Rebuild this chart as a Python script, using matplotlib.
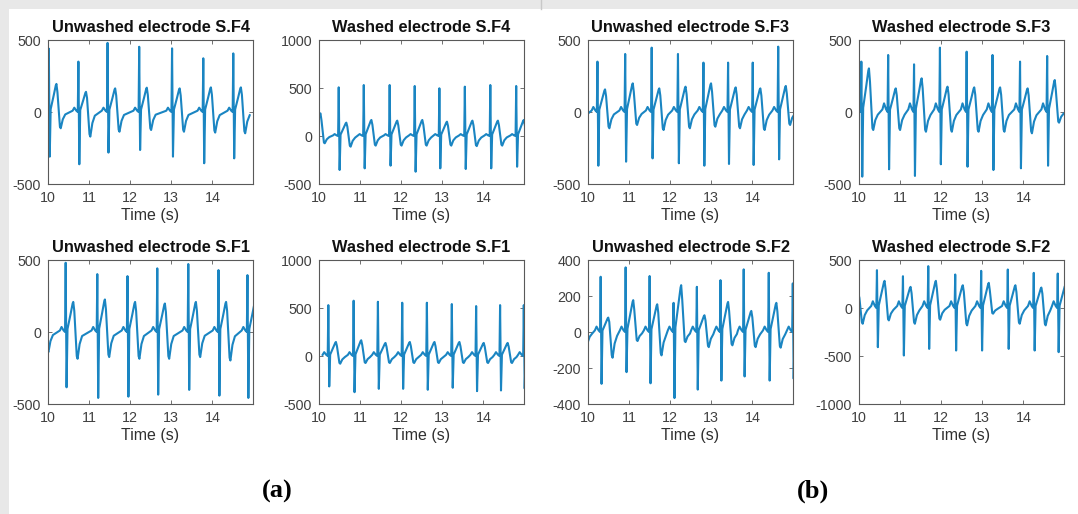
import matplotlib
matplotlib.use("Agg")
import matplotlib.pyplot as plt
from matplotlib.patches import Rectangle
from matplotlib.lines import Line2D
import numpy as np

plt.rcParams['font.family'] = ['Liberation Sans', 'DejaVu Sans']
plt.rcParams['axes.unicode_minus'] = False

# ---------------- data ----------------
# per beat: R-peak time (s), R peak, S trough, T peak, post-T dip (uV)
uF4_t = [10.02, 10.74, 11.45, 12.22, 13.02, 13.78, 14.51]
uF4_R = [440, 350, 480, 453, 442, 373, 407]
uF4_S = [-310, -363, -282, -264, -310, -356, -322]
uF4_T = [195, 140, 164, 169, 164, 171, 171]
uF4_D = [-113, -171, -137, -125, -137, -143, -148]
uF4_P = 30

wF4_t = [9.85, 10.48, 11.09, 11.72, 12.33, 12.93, 13.55, 14.17, 14.80]
wF4_R = [500, 507, 531, 531, 521, 497, 514, 531, 521]
wF4_S = [-340, -354, -337, -309, -372, -337, -344, -337, -320]
wF4_T = [236, 139, 167, 160, 167, 149, 160, 160, 167]
wF4_D = [-76, -111, -100, -100, -100, -100, -105, -100, -100]
wF4_P = 20

uF3_t = [9.58, 10.23, 10.905, 11.55, 12.19, 12.81, 13.41, 14.01, 14.63]
uF3_R = [380, 350, 403, 447, 403, 343, 343, 343, 454]
uF3_S = [-350, -373, -345, -322, -356, -373, -361, -368, -329]
uF3_T = [170, 157, 199, 164, 176, 199, 171, 164, 181]
uF3_D = [-100, -113, -90, -125, -113, -102, -113, -125, -90]
uF3_P = 35

wF3_t = [10.057, 10.71, 11.34, 11.97, 12.62, 13.25, 13.92, 14.58]
wF3_R = [350, 396, 331, 447, 419, 396, 350, 389]
wF3_S = [-449, -398, -444, -363, -380, -403, -391, -373]
wF3_T = [303, 164, 234, 176, 171, 171, 164, 222]
wF3_D = [-125, -125, -137, -137, -137, -137, -148, -74]
wF3_P = 60

uF1_t = [9.72, 10.43, 11.20, 11.935, 12.66, 13.415, 14.15, 14.855]
uF1_R = [420, 481, 402, 388, 442, 472, 430, 395]
uF1_S = [-420, -384, -458, -449, -435, -402, -442, -458]
uF1_T = [210, 209, 226, 209, 198, 209, 209, 209]
uF1_D = [-140, -186, -174, -186, -186, -174, -198, -180]
uF1_P = 35

wF1_t = [10.227, 10.843, 11.434, 12.026, 12.626, 13.233, 13.825, 14.408, 14.985]
wF1_R = [530, 576, 565, 555, 555, 541, 520, 530, 530]
wF1_S = [-317, -377, -342, -342, -352, -331, -366, -359, -340]
wF1_T = [146, 164, 136, 146, 146, 146, 136, 136, 140]
wF1_D = [-80, -73, -73, -73, -73, -73, -73, -73, -73]
wF1_P = 40

uF2_t = [9.70, 10.308, 10.916, 11.50, 12.083, 12.65, 13.225, 13.79, 14.40, 14.985]
uF2_R = [300, 307, 359, 311, 162, 251, 288, 348, 329, 270]
uF2_S = [-280, -288, -223, -285, -367, -320, -270, -247, -270, -260]
uF2_T = [100, 80, 177, 154, 260, 93, 167, 117, 162, 150]
uF2_D = [-60, -143, -50, -130, -56, -84, -74, -84, -87, -80]
uF2_P = 30

wF2_t = [9.80, 10.437, 11.07, 11.686, 12.342, 12.974, 13.622, 14.254, 14.838]
wF2_R = [380, 394, 331, 436, 349, 387, 401, 366, 359]
wF2_S = [-420, -408, -495, -426, -443, -443, -426, -443, -460]
wF2_T = [150, 283, 220, 283, 237, 262, 237, 213, 237]
wF2_D = [-164, -129, -164, -122, -181, -59, -164, -181, -150]
wF2_P = 70

titles = ['Unwashed electrode S.F4', 'Washed electrode S.F4',
          'Unwashed electrode S.F3', 'Washed electrode S.F3',
          'Unwashed electrode S.F1', 'Washed electrode S.F1',
          'Unwashed electrode S.F2', 'Washed electrode S.F2']
y_limits = [(-500, 500), (-500, 1000), (-500, 500), (-500, 500),
            (-500, 500), (-500, 1000), (-400, 400), (-1000, 500)]
y_ticks = [[-500, 0, 500], [-500, 0, 500, 1000], [-500, 0, 500], [-500, 0, 500],
           [-500, 0, 500], [-500, 0, 500, 1000], [-400, -200, 0, 200, 400],
           [-1000, -500, 0, 500]]
x_ticks = [10, 11, 12, 13, 14]
x_range = (10, 14.99)

beats = [(uF4_t, uF4_R, uF4_S, uF4_T, uF4_D, uF4_P),
         (wF4_t, wF4_R, wF4_S, wF4_T, wF4_D, wF4_P),
         (uF3_t, uF3_R, uF3_S, uF3_T, uF3_D, uF3_P),
         (wF3_t, wF3_R, wF3_S, wF3_T, wF3_D, wF3_P),
         (uF1_t, uF1_R, uF1_S, uF1_T, uF1_D, uF1_P),
         (wF1_t, wF1_R, wF1_S, wF1_T, wF1_D, wF1_P),
         (uF2_t, uF2_R, uF2_S, uF2_T, uF2_D, uF2_P),
         (wF2_t, wF2_R, wF2_S, wF2_T, wF2_D, wF2_P)]


def ecg_trace(rt, R, S, T, D, p):
    """Build the polyline of each beat from its read feature values."""
    ts, vs = [], []
    for r, a, s, tt, d in zip(rt, R, S, T, D):
        pts = [(r - 0.14, 0.3 * p), (r - 0.10, p), (r - 0.05, 0.3 * p),
               (r - 0.015, 0.0), (r, a), (r + 0.022, s), (r + 0.045, 0.1 * tt),
               (r + 0.12, 0.6 * tt), (r + 0.17, 0.95 * tt), (r + 0.185, tt),
               (r + 0.21, 0.7 * tt), (r + 0.27, 0.9 * d), (r + 0.29, d),
               (r + 0.34, 0.45 * d), (r + 0.40, 0.15 * d)]
        for x, y in pts:
            ts.append(x)
            vs.append(y)
    return np.array(ts), np.array(vs)


# ---------------- layout ----------------
W, H = 1078, 514
fig = plt.figure(figsize=(W / 100, H / 100), dpi=100)
fig.patch.set_facecolor('white')

# screenshot frame
fig.add_artist(Rectangle((0, 1 - 9 / H), 1, 9 / H, transform=fig.transFigure,
                         facecolor='#e8e8e8', edgecolor='none', zorder=0))
fig.add_artist(Rectangle((0, 0), 9 / W, 1, transform=fig.transFigure,
                         facecolor='#e8e8e8', edgecolor='none', zorder=0))
fig.add_artist(Line2D([541 / W, 541 / W], [1 - 9 / H, 1], transform=fig.transFigure,
                      color='#c8c8c8', lw=1))

col_left = [48, 319, 588, 859]
row_top = [40, 260]
ax_w, ax_h = 205, 144

line_color = '#1a85c2'

for i in range(8):
    r, c = divmod(i, 4)
    left = col_left[c] / W
    bottom = 1 - (row_top[r] + ax_h) / H
    ax = fig.add_axes([left, bottom, ax_w / W, ax_h / H])
    t, v = ecg_trace(*beats[i])
    ax.plot(t, v, color=line_color, lw=1.5)
    ax.set_xlim(*x_range)
    ax.set_ylim(*y_limits[i])
    ax.set_xticks(x_ticks)
    ax.set_yticks(y_ticks[i])
    ax.tick_params(direction='in', top=True, right=True, length=3, width=0.6,
                   labelsize=10.3, labelcolor='#404040', color='#595959', pad=5)
    for sp in ax.spines.values():
        sp.set_color('#595959')
        sp.set_linewidth(0.8)
    ax.set_title(titles[i], fontsize=11.8, fontweight='bold', pad=6, color='#111111')
    ax.set_xlabel('Time (s)', fontsize=11.5, labelpad=2, color='#303030')

fig.text(277 / W, 1 - 491 / H, '(a)', fontsize=19, fontweight='bold',
         family=['Liberation Serif', 'DejaVu Serif'], ha='center', va='center')
fig.text(813 / W, 1 - 491 / H, '(b)', fontsize=19, fontweight='bold',
         family=['Liberation Serif', 'DejaVu Serif'], ha='center', va='center')

fig.savefig('out.png', dpi=100)
